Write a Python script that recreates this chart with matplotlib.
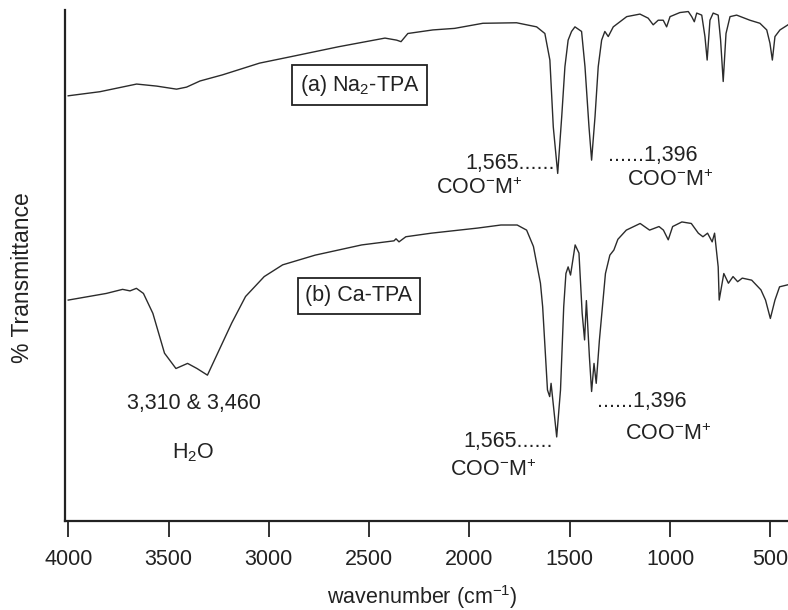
import numpy as np
import matplotlib
matplotlib.use('Agg')
import matplotlib.pyplot as plt

plt.rcParams['font.family'] = ['Liberation Sans', 'DejaVu Sans']
plt.rcParams['mathtext.default'] = 'regular'

# spectrum (a) Na2-TPA
wn_a = [4000, 3842, 3659, 3559, 3460, 3410, 3343, 3231, 3046, 2885, 2653, 2421,
        2363, 2341, 2307, 2182, 2074, 1933, 1765, 1665, 1624, 1599, 1582, 1560,
        1540, 1524, 1508, 1491, 1474, 1441, 1424, 1404, 1391, 1374, 1358, 1341,
        1325, 1308, 1283, 1216, 1150, 1109, 1084, 1059, 1034, 1017, 1000, 951,
        909, 892, 879, 867, 842, 826, 815, 801, 785, 760, 748, 735, 721, 701,
        668, 602, 552, 518, 502, 490, 477, 452, 412]
t_a = [83.2, 84.0, 85.5, 85.1, 84.5, 84.9, 86.1, 87.3, 89.6, 90.9, 92.8, 94.5,
       94.1, 93.8, 95.4, 96.1, 96.4, 97.4, 97.5, 96.7, 95.4, 90.2, 77.1, 68.0,
       79.1, 88.9, 94.1, 95.8, 96.7, 95.8, 88.9, 77.1, 70.6, 79.1, 88.9, 94.1,
       95.8, 94.8, 96.7, 98.7, 99.2, 98.4, 97.1, 98.0, 98.0, 96.7, 98.7, 99.5,
       99.7, 98.7, 97.7, 99.4, 99.0, 94.8, 90.2, 98.0, 99.4, 99.0, 94.1, 86.0,
       95.4, 98.7, 99.0, 98.0, 97.4, 96.1, 93.5, 90.2, 94.8, 96.1, 97.1]

# spectrum (b) Ca-TPA
wn_b = [4000, 3810, 3729, 3692, 3660, 3625, 3578, 3520, 3463, 3405, 3358, 3306,
        3255, 3185, 3116, 3023, 2931, 2769, 2537, 2376, 2366, 2351, 2317, 2190,
        1959, 1843, 1762, 1715, 1681, 1646, 1635, 1611, 1600, 1593, 1565, 1546,
        1530, 1519, 1508, 1496, 1473, 1454, 1438, 1426, 1417, 1402, 1391, 1379,
        1368, 1352, 1322, 1300, 1280, 1260, 1218, 1149, 1102, 1055, 1033, 1009,
        987, 941, 894, 859, 836, 813, 790, 778, 760, 755, 732, 709, 686, 663,
        640, 593, 547, 524, 500, 477, 454, 412]
t_b = [43.2, 44.5, 45.3, 45.0, 45.5, 44.5, 40.6, 32.8, 29.8, 30.8, 29.8, 28.5,
       32.8, 38.7, 43.9, 47.8, 50.1, 52.0, 54.0, 54.8, 55.2, 54.6, 55.6, 56.3,
       57.3, 57.9, 57.9, 56.9, 53.7, 46.5, 41.9, 25.6, 24.3, 26.9, 16.4, 25.6,
       41.9, 48.4, 49.7, 48.1, 54.0, 52.4, 40.6, 35.4, 43.1, 32.1, 25.3, 30.8,
       26.9, 35.4, 48.4, 52.0, 53.0, 55.1, 56.9, 58.2, 56.9, 57.6, 56.9, 55.0,
       57.6, 58.5, 58.2, 56.3, 55.6, 56.3, 54.6, 56.3, 49.7, 43.2, 48.4, 46.5,
       47.8, 46.8, 47.5, 47.1, 45.2, 43.2, 39.6, 43.2, 45.8, 46.2]

xticks = [4000, 3500, 3000, 2500, 2000, 1500, 1000, 500]

fig = plt.figure(figsize=(7.88, 6.10), dpi=100)
ax = fig.add_axes([65 / 788, (610 - 520.7) / 610, 723 / 788, 510.7 / 610])

line_color = '#2b2b2b'
ax.plot(wn_a, t_a, color=line_color, lw=1.0)
ax.plot(wn_b, t_b, color=line_color, lw=1.0)

ax.set_xlim(4016, 412)
ax.set_ylim(0, 100)
ax.set_xticks(xticks)
ax.set_xticklabels([str(t) for t in xticks])
ax.set_yticks([])

for side in ['top', 'right']:
    ax.spines[side].set_visible(False)
for side in ['left', 'bottom']:
    ax.spines[side].set_linewidth(1.6)
    ax.spines[side].set_color('#222222')

ax.tick_params(axis='x', direction='out', length=11.5, width=1.3,
               pad=9, labelsize=15.5, colors='#222222')

fs = 15.5
tc = '#222222'
box = dict(boxstyle='square,pad=0.35', fc='white', ec='#222222', lw=1.3)
ax.text(2546, 85.3, '(a) Na$_2$-TPA', fontsize=fs, color=tc,
        ha='center', va='center', bbox=box)
ax.text(2551, 44.0, '(b) Ca-TPA', fontsize=fs, color=tc,
        ha='center', va='center', bbox=box)

# peak labels, upper spectrum
ax.text(1574, 70.0, '1,565......', fontsize=fs, color=tc, ha='right', va='center')
ax.text(1953, 65.0, 'COO$^{-}$M$^{+}$', fontsize=fs, color=tc, ha='center', va='center')
ax.text(1307, 71.6, '......1,396', fontsize=fs, color=tc, ha='left', va='center')
ax.text(999, 66.7, 'COO$^{-}$M$^{+}$', fontsize=fs, color=tc, ha='center', va='center')

# peak labels, lower spectrum
ax.text(3371, 22.9, '3,310 & 3,460', fontsize=fs, color=tc, ha='center', va='center')
ax.text(3376, 13.3, 'H$_2$O', fontsize=fs, color=tc, ha='center', va='center')
ax.text(1584, 15.6, '1,565......', fontsize=fs, color=tc, ha='right', va='center')
ax.text(1880, 9.8, 'COO$^{-}$M$^{+}$', fontsize=fs, color=tc, ha='center', va='center')
ax.text(1366, 23.3, '......1,396', fontsize=fs, color=tc, ha='left', va='center')
ax.text(1010, 17.0, 'COO$^{-}$M$^{+}$', fontsize=fs, color=tc, ha='center', va='center')

fig.text(422 / 788, 1 - 597 / 610, 'wavenumber (cm$^{-1}$)', fontsize=fs,
         color=tc, ha='center', va='center')
fig.text(23 / 788, 1 - 278 / 610, '% Transmittance', fontsize=16.5,
         color=tc, ha='center', va='center', rotation=90)

plt.savefig('out.png', dpi=100, facecolor='white')
plt.close()
